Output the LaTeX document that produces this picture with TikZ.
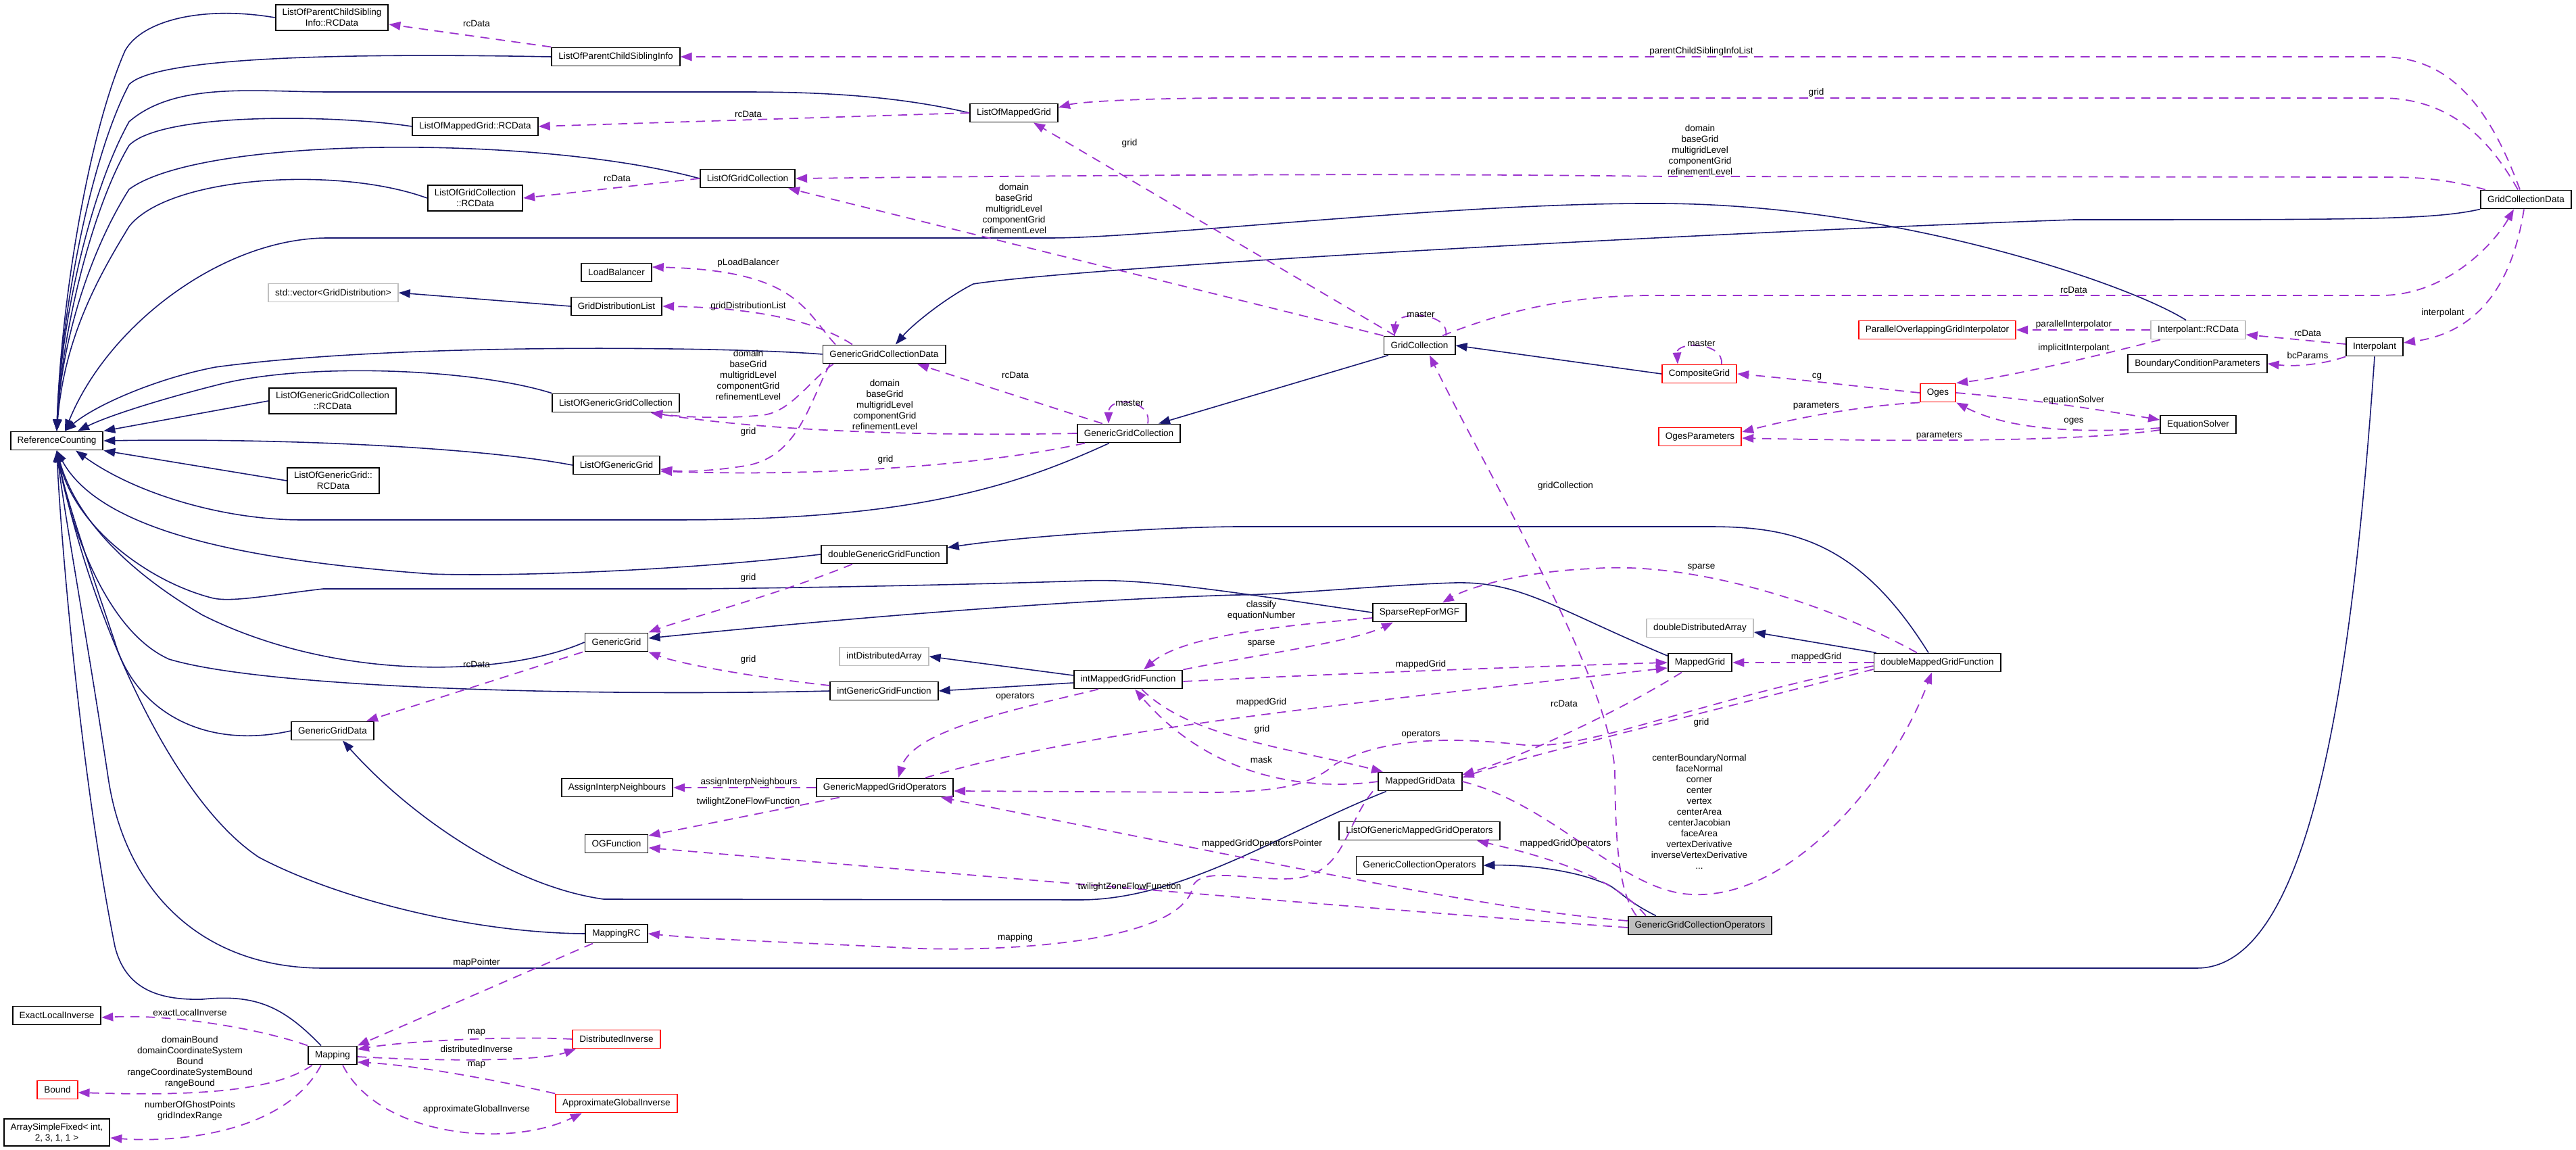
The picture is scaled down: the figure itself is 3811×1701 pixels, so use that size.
\documentclass[tikz,border=0pt]{standalone}
\usepackage{fontspec}
\setmainfont{Liberation Sans}
\usetikzlibrary{arrows.meta}
\definecolor{edgeblue}{RGB}{25,25,112}
\definecolor{edgepurple}{RGB}{154,50,205}
\definecolor{boxgrey}{RGB}{191,191,191}
\newcommand\dgfont{\fontsize{3.85}{4.55}\selectfont}

\begin{document}
\begin{tikzpicture}[x=0.01cm,y=-0.01cm,
  cls/.style={draw=black,fill=white,line width=0.55pt,font=\dgfont,align=center,inner xsep=1mm,inner ysep=0.6mm,minimum height=2.7mm},
  redcls/.style={cls,draw=red},
  greycls/.style={cls,draw=boxgrey},
  inh/.style={edgeblue,line width=0.45pt,-{Triangle[length=1.7mm,width=1.25mm]}},
  usg/.style={edgepurple,line width=0.5pt,dash pattern=on 1.35mm off 0.95mm,-{Triangle[length=1.7mm,width=1.25mm]}},
  lbl/.style={font=\dgfont,align=center,inner sep=0pt}]
  \useasboundingbox (0,0) rectangle (3811,1701);

  \node[cls] (rc) at (84,652) {ReferenceCounting};
  \node[cls] (lpcsirc) at (491,26) {ListOfParentChildSibling\\Info::RCData};
  \node[cls] (lpcsi) at (911,84) {ListOfParentChildSiblingInfo};
  \node[cls] (lmgrc) at (703,187) {ListOfMappedGrid::RCData};
  \node[cls] (lmg) at (1500,167) {ListOfMappedGrid};
  \node[cls] (lgcrc) at (703,293) {ListOfGridCollection\\::RCData};
  \node[cls] (lgc) at (1106,264) {ListOfGridCollection};
  \node[cls] (lb) at (912,403) {LoadBalancer};
  \node[greycls] (vecgd) at (493,433) {std::vector<GridDistribution>};
  \node[cls] (gdl) at (912,453) {GridDistributionList};
  \node[cls] (ggcd) at (1308,524) {GenericGridCollectionData};
  \node[cls] (lggcrc) at (492,593) {ListOfGenericGridCollection\\::RCData};
  \node[cls] (lggc) at (911,596) {ListOfGenericGridCollection};
  \node[cls] (lgg) at (912,688) {ListOfGenericGrid};
  \node[cls] (lggrc) at (493,711) {ListOfGenericGrid::\\RCData};
  \node[cls] (ggc) at (1670,641) {GenericGridCollection};
  \node[cls] (gc) at (2100,511) {GridCollection};
  \node[redcls] (cg) at (2514,553) {CompositeGrid};
  \node[redcls] (pogi) at (2866,488) {ParallelOverlappingGridInterpolator};
  \node[greycls] (irc) at (3252,488) {Interpolant::RCData};
  \node[cls] (gcd) at (3737,295) {GridCollectionData};
  \node[cls] (interp) at (3513,513) {Interpolant};
  \node[cls] (bcp) at (3251,538) {BoundaryConditionParameters};
  \node[redcls] (oges) at (2867,581) {Oges};
  \node[redcls] (ogesp) at (2515,646) {OgesParameters};
  \node[cls] (eqs) at (3252,628) {EquationSolver};
  \node[cls] (dggf) at (1308,820) {doubleGenericGridFunction};
  \node[cls] (gg) at (912,950) {GenericGrid};
  \node[cls] (srmgf) at (2100,906) {SparseRepForMGF};
  \node[greycls] (dda) at (2515,929) {doubleDistributedArray};
  \node[greycls] (ida) at (1308,971) {intDistributedArray};
  \node[cls] (imgf) at (1669,1005) {intMappedGridFunction};
  \node[cls] (mg) at (2515,980) {MappedGrid};
  \node[cls] (dmgf) at (2866,980) {doubleMappedGridFunction};
  \node[cls] (iggf) at (1308,1022) {intGenericGridFunction};
  \node[cls] (ggd) at (492,1081) {GenericGridData};
  \node[cls] (mgd) at (2101,1156) {MappedGridData};
  \node[cls] (ain) at (913,1165) {AssignInterpNeighbours};
  \node[cls] (gmgo) at (1309,1165) {GenericMappedGridOperators};
  \node[cls] (logmgo) at (2100,1229) {ListOfGenericMappedGridOperators};
  \node[cls] (ogf) at (912,1248) {OGFunction};
  \node[cls] (gco) at (2100,1280) {GenericCollectionOperators};
  \node[cls,fill=boxgrey] (ggco) at (2515,1369) {GenericGridCollectionOperators};
  \node[cls] (mrc) at (912,1381) {MappingRC};
  \node[cls] (eli) at (84,1502) {ExactLocalInverse};
  \node[cls] (map) at (492,1561) {Mapping};
  \node[redcls] (di) at (912,1537) {DistributedInverse};
  \node[redcls] (bound) at (85,1612) {Bound};
  \node[redcls] (agi) at (912,1632) {ApproximateGlobalInverse};
  \node[cls] (asf) at (84,1675) {ArraySimpleFixed< int,\\ 2, 3, 1, 1 >};

  \draw[inh] (lpcsirc.west) .. controls (300,8) and (210,30) .. (185,75) .. controls (130,200) and (90,450) .. (rc.north);
  \draw[inh] (lpcsi.west) .. controls (500,78) and (230,85) .. (191,125) .. controls (135,230) and (90,460) .. (rc.north);
  \draw[inh] (lmg.west) .. controls (1320,140) and (1200,136) .. (1100,136) -- (485,136) .. controls (380,136) and (260,120) .. (191,180) .. controls (135,280) and (90,470) .. (rc.north);
  \draw[inh] (lmgrc.west) .. controls (500,170) and (240,165) .. (191,215) .. controls (140,300) and (92,480) .. (rc.north);
  \draw[inh] (lgc.west) .. controls (800,200) and (300,200) .. (191,280) .. controls (140,360) and (92,490) .. (rc.north);
  \draw[inh] (lgcrc.west) .. controls (500,245) and (250,260) .. (191,335) .. controls (145,410) and (95,500) .. (rc.north);
  \draw[inh] ([xshift=-0.18cm]irc.north) .. controls (3150,420) and (2800,300) .. (2446,301) .. controls (2150,300) and (1700,352) .. (1555,352) -- (485,352) .. controls (330,352) and (160,480) .. ([xshift=0.12cm]rc.north);
  \draw[inh] (ggcd.west) .. controls (1100,514) and (600,505) .. (319,543) .. controls (230,560) and (140,600) .. ([xshift=0.12cm]rc.north);
  \draw[inh] (lggc.north west) .. controls (700,545) and (450,535) .. (319,570) .. controls (240,590) and (160,615) .. ([xshift=0.31cm]rc.north);
  \draw[inh] (lggcrc.west) -- (rc.north east);
  \draw[inh] (lgg.west) .. controls (700,660) and (400,648) .. (rc.east);
  \draw[inh] (lggrc.west) -- (rc.south east);
  \draw[inh] ([xshift=-0.29cm]ggc.south) .. controls (1500,720) and (1350,769) .. (1000,769) -- (446,769) .. controls (330,769) and (200,730) .. ([xshift=0.28cm]rc.south);
  \draw[inh] (dggf.west) .. controls (1000,845) and (750,853) .. (638,849) .. controls (380,830) and (150,790) .. (rc.south);
  \draw[inh] (srmgf.west) .. controls (1850,880) and (1700,855) .. (1606,859) .. controls (1400,866) and (1100,871) .. (1000,871) -- (478,871) .. controls (400,880) and (340,892) .. (312,884) .. controls (220,860) and (110,780) .. (rc.south);
  \draw[inh] (gg.west) .. controls (750,1000) and (500,1010) .. (300,910) .. controls (180,840) and (110,760) .. (rc.south);
  \draw[inh] (iggf.west) .. controls (900,1030) and (400,1020) .. (250,975) .. controls (150,930) and (100,760) .. (rc.south);
  \draw[inh] (ggd.west) .. controls (300,1110) and (200,1050) .. (170,950) .. controls (130,830) and (95,730) .. (rc.south);
  \draw[inh] ([xshift=-0.17cm]map.north) .. controls (420,1490) and (380,1470) .. (300,1478) .. controls (230,1480) and (185,1460) .. (170,1400) .. controls (120,1150) and (90,800) .. (rc.south);
  \draw[inh] (interp.south) .. controls (3480,1000) and (3420,1432) .. (3250,1432) -- (478,1432) .. controls (300,1432) and (185,1320) .. (160,1150) .. controls (130,950) and (95,760) .. (rc.south);
  \draw[inh] (mrc.west) .. controls (700,1380) and (500,1330) .. (383,1268) .. controls (250,1180) and (130,900) .. (rc.south);
  \draw[inh] ([xshift=-0.5cm]mgd.south) .. controls (1900,1230) and (1750,1330) .. (1600,1331) -- (893,1330) .. controls (750,1310) and (600,1200) .. ([xshift=0.15cm]ggd.south);
  \draw[inh] (gcd.south west) .. controls (3600,325) and (3500,325) .. (3068,325) .. controls (2500,345) and (1600,395) .. (1440,420) .. controls (1400,440) and (1350,480) .. ([xshift=0.17cm]ggcd.north);
  \draw[inh] ([xshift=-0.46cm]gc.south) -- ([xshift=0.44cm]ggc.north);
  \draw[inh] (cg.west) -- (gc.east);
  \draw[inh] (gdl.west) -- (vecgd.east);
  \draw[inh] ([yshift=0.06cm]imgf.west) -- (ida.east);
  \draw[inh] ([yshift=-0.05cm]imgf.west) -- (iggf.east);
  \draw[inh] ([xshift=-0.9cm]dmgf.north) -- ([yshift=-0.06cm]dda.east);
  \draw[inh] ([xshift=-0.13cm]dmgf.north) .. controls (2750,800) and (2650,779) .. (2529,779) -- (1829,779) .. controls (1700,780) and (1500,795) .. ([yshift=0.1cm]dggf.east);
  \draw[inh] ([yshift=0.1cm]mg.west) .. controls (2300,900) and (2250,860) .. (2153,862) .. controls (2050,865) and (1900,880) .. (1829,880) .. controls (1500,890) and (1100,930) .. ([yshift=0.06cm]gg.east);
  \draw[inh] ([xshift=-0.65cm]ggco.north) .. controls (2400,1330) and (2390,1310) .. (2370,1305) .. controls (2320,1285) and (2250,1279) .. (gco.east);

  \draw[usg] (lpcsi.north west) -- ([yshift=-0.1cm]lpcsirc.east);
  \draw[usg] ([xshift=-0.09cm]gcd.north) .. controls (3680,150) and (3620,84) .. (3522,84) -- (lpcsi.east);
  \draw[usg] (lmg.west) -- (lmgrc.east);
  \draw[usg] ([xshift=-0.12cm]gcd.north) .. controls (3680,200) and (3620,145) .. (3522,145) -- (1829,145) .. controls (1700,145) and (1600,150) .. ([yshift=0.08cm]lmg.east);
  \draw[usg] ([xshift=-0.36cm]gc.north) -- ([xshift=0.29cm]lmg.south);
  \draw[usg] (lgc.west) -- (lgcrc.east);
  \draw[usg] ([xshift=-0.6cm]gcd.north) .. controls (3620,265) and (3580,262) .. (3528,262) -- (2466,261) .. controls (2200,258) and (1900,256) .. (lgc.east);
  \draw[usg] (gc.north west) -- ([xshift=0.6cm]lgc.south);
  \draw[usg] ([xshift=-0.72cm]ggcd.north) .. controls (1190,460) and (1180,400) .. ([yshift=0.08cm]lb.east);
  \draw[usg] ([xshift=-0.47cm]ggcd.north) .. controls (1200,470) and (1100,455) .. (gdl.east);
  \draw[usg] ([xshift=-0.39cm]ggc.north) -- ([xshift=0.49cm]ggcd.south);
  \draw[usg] ([xshift=0.28cm]ggc.north) .. controls (1705,590) and (1640,585) .. ([xshift=-0.3cm]ggc.north);
  \draw[usg] ([xshift=0.39cm]gc.north) .. controls (2145,460) and (2065,460) .. ([xshift=-0.37cm]gc.north);
  \draw[usg] ([xshift=0.33cm]cg.north) .. controls (2550,505) and (2480,505) .. ([xshift=-0.32cm]cg.north);
  \draw[usg] ([xshift=0.34cm]gc.north) .. controls (2250,450) and (2350,437) .. (2446,437) -- (3522,437) .. controls (3620,437) and (3690,360) .. ([xshift=-0.18cm]gcd.south);
  \draw[usg] ([xshift=-0.03cm]gcd.south) .. controls (3720,400) and (3680,490) .. ([yshift=0.06cm]interp.east);
  \draw[usg] ([yshift=0.04cm]interp.west) -- ([yshift=-0.07cm]irc.east);
  \draw[usg] (interp.south west) .. controls (3440,538) and (3400,543) .. (bcp.east);
  \draw[usg] (irc.west) -- (pogi.east);
  \draw[usg] ([xshift=-0.56cm]irc.south) .. controls (3050,540) and (2950,560) .. (oges.north east);
  \draw[usg] (oges.west) .. controls (2780,575) and (2650,560) .. (cg.east);
  \draw[usg] (oges.south west) .. controls (2750,600) and (2650,620) .. ([yshift=0.07cm]ogesp.east);
  \draw[usg] (oges.east) .. controls (3000,590) and (3100,605) .. ([yshift=0.07cm]eqs.west);
  \draw[usg] ([yshift=-0.05cm]eqs.west) .. controls (3100,640) and (2980,640) .. (oges.south east);
  \draw[usg] ([yshift=-0.08cm]eqs.west) .. controls (3100,650) and (2900,655) .. ([yshift=-0.02cm]ogesp.east);
  \draw[usg] ([xshift=-0.94cm]ggco.north) .. controls (2395,1320) and (2390,1250) .. (2389,1140) .. controls (2380,1000) and (2200,700) .. ([xshift=0.15cm]gc.south);
  \draw[usg] (ggc.west) .. controls (1400,645) and (1150,640) .. ([xshift=0.52cm]lggc.south);
  \draw[usg] ([xshift=-0.75cm]ggcd.south) .. controls (1200,560) and (1170,610) .. (1128,614) .. controls (1070,620) and (1010,617) .. ([xshift=0.52cm]lggc.south);
  \draw[usg] ([xshift=-0.8cm]ggcd.south) .. controls (1195,600) and (1180,680) .. (1096,690) .. controls (1050,697) and (1010,698) .. ([yshift=-0.06cm]lgg.east);
  \draw[usg] ([xshift=-0.65cm]ggc.south) .. controls (1450,690) and (1200,705) .. ([yshift=-0.09cm]lgg.east);
  \draw[usg] ([xshift=-0.47cm]dggf.south) .. controls (1150,880) and (1000,920) .. (gg.north east);
  \draw[usg] ([yshift=0.08cm]iggf.west) .. controls (1100,1000) and (1000,980) .. (gg.south east);
  \draw[usg] ([xshift=-0.5cm]gg.south) -- ([xshift=0.5cm]ggd.north);
  \draw[usg] ([yshift=-0.08cm]srmgf.west) .. controls (1900,925) and (1750,940) .. ([xshift=0.23cm]imgf.north);
  \draw[usg] (imgf.north east) .. controls (1850,970) and (2000,950) .. ([xshift=-0.39cm]srmgf.south);
  \draw[usg] ([xshift=-0.3cm]dmgf.north) .. controls (2700,890) and (2500,830) .. (2357,841) .. controls (2250,845) and (2170,870) .. ([xshift=0.34cm]srmgf.north);
  \draw[usg] ([yshift=-0.03cm]imgf.east) .. controls (2000,995) and (2300,985) .. (mg.west);
  \draw[usg] (dmgf.west) -- (mg.east);
  \draw[usg] ([xshift=0.6cm]gmgo.north) .. controls (1600,1080) and (2000,1040) .. ([yshift=-0.08cm]mg.west);
  \draw[usg] ([xshift=-0.27cm]mg.south) .. controls (2400,1050) and (2250,1120) .. ([yshift=0.1cm]mgd.east);
  \draw[usg] ([xshift=0.2cm]imgf.south) .. controls (1760,1090) and (1900,1105) .. ([xshift=-0.55cm]mgd.north);
  \draw[usg] (mgd.west) .. controls (1950,1168) and (1800,1160) .. ([xshift=0.1cm]imgf.south);
  \draw[usg] ([yshift=-0.1cm]dmgf.west) .. controls (2500,1060) and (2250,1120) .. ([yshift=0.06cm]mgd.east);
  \draw[usg] (mgd.east) .. controls (2300,1190) and (2400,1320) .. (2504,1323) .. controls (2650,1330) and (2800,1150) .. ([xshift=-0.08cm]dmgf.south);
  \draw[usg] ([xshift=-0.44cm]imgf.south) .. controls (1500,1050) and (1350,1080) .. ([xshift=0.2cm]gmgo.north);
  \draw[usg] ([yshift=-0.05cm]dmgf.west) .. controls (2500,1040) and (2350,1110) .. (2255,1102) .. controls (2150,1090) and (2050,1090) .. (1976,1130) .. controls (1940,1160) and (1900,1170) .. (1800,1172) -- ([yshift=-0.05cm]gmgo.east);
  \draw[usg] (gmgo.west) -- (ain.east);
  \draw[usg] ([xshift=-0.67cm]gmgo.south) -- ([yshift=0.12cm]ogf.east);
  \draw[usg] ([yshift=-0.03cm]ggco.west) .. controls (2100,1350) and (1500,1300) .. ([yshift=-0.06cm]ogf.east);
  \draw[usg] ([yshift=0.07cm]ggco.west) .. controls (2200,1345) and (1900,1280) .. ([xshift=0.83cm]gmgo.south);
  \draw[usg] ([xshift=-0.8cm]ggco.north) .. controls (2390,1300) and (2300,1270) .. ([xshift=0.85cm]logmgo.south);
  \draw[usg] ([xshift=-0.7cm]mgd.south) .. controls (1990,1220) and (1990,1290) .. (1918,1299) .. controls (1860,1305) and (1780,1280) .. (1765,1310) .. controls (1750,1400) and (1450,1410) .. (1319,1401) .. controls (1200,1395) and (1050,1390) .. (mrc.east);
  \draw[usg] ([xshift=-0.35cm]mrc.south) -- (map.north east);
  \draw[usg] (map.north west) .. controls (380,1520) and (250,1500) .. ([yshift=-0.03cm]eli.east);
  \draw[usg] ([xshift=-0.3cm]map.south) .. controls (400,1620) and (250,1620) .. ([yshift=-0.04cm]bound.east);
  \draw[usg] ([xshift=-0.17cm]map.south) .. controls (420,1680) and (250,1690) .. ([yshift=-0.08cm]asf.east);
  \draw[usg] (di.west) .. controls (750,1532) and (600,1540) .. ([yshift=0.09cm]map.east);
  \draw[usg] ([yshift=-0.02cm]map.east) .. controls (650,1570) and (800,1570) .. ([xshift=-0.6cm]di.south);
  \draw[usg] (agi.north west) .. controls (700,1590) and (600,1575) .. ([yshift=-0.1cm]map.east);
  \draw[usg] ([xshift=0.15cm]map.south) .. controls (560,1680) and (750,1700) .. ([xshift=-0.51cm]agi.south);

  \node[lbl] (t01) at (705,35) {rcData};
  \node[lbl] (t02) at (2517,76) {parentChildSiblingInfoList};
  \node[lbl] (t03) at (1107,169) {rcData};
  \node[lbl] (t04) at (2687,137) {grid};
  \node[lbl] (t05) at (1671,212) {grid};
  \node[lbl] (t06) at (913,264) {rcData};
  \node[lbl] (t07) at (2515,222) {domain\\baseGrid\\multigridLevel\\componentGrid\\refinementLevel};
  \node[lbl] (t08) at (1500,309) {domain\\baseGrid\\multigridLevel\\componentGrid\\refinementLevel};
  \node[lbl] (t09) at (1107,389) {pLoadBalancer};
  \node[lbl] (t10) at (1107,453) {gridDistributionList};
  \node[lbl] (t11) at (2102,465) {master};
  \node[lbl] (t12) at (3068,429) {rcData};
  \node[lbl] (t13) at (3614,463) {interpolant};
  \node[lbl] (t14) at (3068,480) {parallelInterpolator};
  \node[lbl] (t15) at (3068,515) {implicitInterpolant};
  \node[lbl] (t16) at (3414,493) {rcData};
  \node[lbl] (t17) at (3414,526) {bcParams};
  \node[lbl] (t18) at (2517,508) {master};
  \node[lbl] (t19) at (2688,557) {cg};
  \node[lbl] (t20) at (1107,555) {domain\\baseGrid\\multigridLevel\\componentGrid\\refinementLevel};
  \node[lbl] (t21) at (1502,555) {rcData};
  \node[lbl] (t22) at (1671,596) {master};
  \node[lbl] (t23) at (1309,599) {domain\\baseGrid\\multigridLevel\\componentGrid\\refinementLevel};
  \node[lbl] (t24) at (3068,592) {equationSolver};
  \node[lbl] (t25) at (2687,601) {parameters};
  \node[lbl] (t26) at (3068,623) {oges};
  \node[lbl] (t27) at (2869,645) {parameters};
  \node[lbl] (t28) at (1107,639) {grid};
  \node[lbl] (t29) at (1310,680) {grid};
  \node[lbl] (t30) at (2316,719) {gridCollection};
  \node[lbl] (t31) at (2517,839) {sparse};
  \node[lbl] (t32) at (1107,855) {grid};
  \node[lbl] (t33) at (1866,903) {classify\\equationNumber};
  \node[lbl] (t34) at (1866,952) {sparse};
  \node[lbl] (t35) at (1107,976) {grid};
  \node[lbl] (t36) at (2687,972) {mappedGrid};
  \node[lbl] (t37) at (2102,983) {mappedGrid};
  \node[lbl] (t38) at (705,983) {rcData};
  \node[lbl] (t39) at (1502,1031) {operators};
  \node[lbl] (t40) at (1866,1039) {mappedGrid};
  \node[lbl] (t41) at (2314,1041) {rcData};
  \node[lbl] (t42) at (2517,1069) {grid};
  \node[lbl] (t43) at (1867,1079) {grid};
  \node[lbl] (t44) at (2102,1087) {operators};
  \node[lbl] (t45) at (2514,1201) {centerBoundaryNormal\\faceNormal\\corner\\center\\vertex\\centerArea\\centerJacobian\\faceArea\\vertexDerivative\\inverseVertexDerivative\\...};
  \node[lbl] (t46) at (1866,1124) {mask};
  \node[lbl] (t47) at (1108,1157) {assignInterpNeighbours};
  \node[lbl] (t48) at (1107,1186) {twilightZoneFlowFunction};
  \node[lbl] (t49) at (2316,1248) {mappedGridOperators};
  \node[lbl] (t50) at (1867,1248) {mappedGridOperatorsPointer};
  \node[lbl] (t51) at (1671,1312) {twilightZoneFlowFunction};
  \node[lbl] (t52) at (1502,1387) {mapping};
  \node[lbl] (t53) at (705,1424) {mapPointer};
  \node[lbl] (t54) at (281,1498) {exactLocalInverse};
  \node[lbl] (t55) at (705,1527) {map};
  \node[lbl] (t56) at (705,1552) {distributedInverse};
  \node[lbl] (t57) at (281,1571) {domainBound\\domainCoordinateSystem\\Bound\\rangeCoordinateSystemBound\\rangeBound};
  \node[lbl] (t58) at (705,1575) {map};
  \node[lbl] (t59) at (281,1643) {numberOfGhostPoints\\gridIndexRange};
  \node[lbl] (t60) at (705,1641) {approximateGlobalInverse};
\end{tikzpicture}
\end{document}
